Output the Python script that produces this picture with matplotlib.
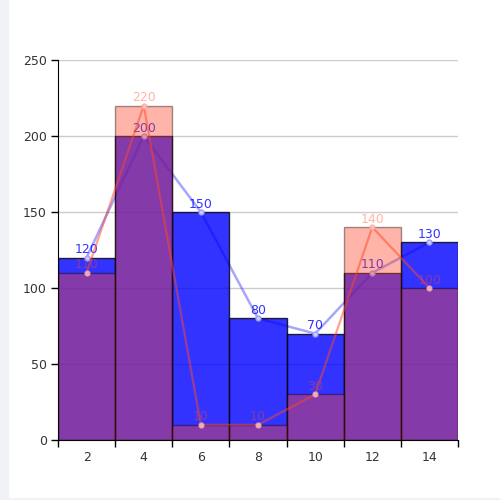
import numpy as np
import matplotlib
matplotlib.use("Agg")
import matplotlib.pyplot as plt
from matplotlib.patches import Rectangle

categories = ["2", "4", "6", "8", "10", "12", "14"]
blue_vals = [120, 200, 150, 80, 70, 110, 130]
red_vals = [110, 220, 10, 10, 30, 140, 100]
y_ticks = [0, 50, 100, 150, 200, 250]

blue = (0.0, 0.0, 1.0)
red = (1.0, 0.27, 0.16)

plt.rcParams["font.family"] = ["DejaVu Sans"]
fig = plt.figure(figsize=(5, 5), dpi=100)
fig.patch.set_facecolor("#f1f2f7")
# white card behind the chart
card = Rectangle((0.017, 0.005), 1.0, 1.0, transform=fig.transFigure,
                 facecolor="white", edgecolor="none", zorder=-5)
fig.patches.append(card)

ax = fig.add_axes([0.116, 0.12, 0.8, 0.76])
ax.set_facecolor("none")
x = np.arange(len(categories))

# grid
for t in y_ticks[1:]:
    ax.axhline(t, color="#cccccc", lw=1, zorder=0.5)

# blue series: line under bars, markers above
ax.plot(x, blue_vals, color=blue, alpha=0.35, lw=1.8, zorder=1)
ax.bar(x, blue_vals, width=1.0, color=blue, alpha=0.8, edgecolor="black", linewidth=1, zorder=2)
ax.plot(x, blue_vals, linestyle="none", marker="o", ms=3.5, mfc=(0.8, 0.8, 1.0), mec=(0.62, 0.62, 1.0),
        mew=1, zorder=2.5)
for xi, v in zip(x, blue_vals):
    ax.annotate(str(v), (xi, v), xytext=(0, 1), textcoords="offset points", ha="center", va="bottom",
                fontsize=9, color=blue, alpha=0.8, zorder=2.6)

# red series on top with transparency
ax.bar(x, red_vals, width=1.0, color=red, alpha=0.4, edgecolor="black", linewidth=1, zorder=3)
ax.plot(x, red_vals, color=red, alpha=0.5, lw=1.6, zorder=4)
ax.plot(x, red_vals, linestyle="none", marker="o", ms=3.5, mfc=(1.0, 0.82, 0.8), mec=(1.0, 0.65, 0.6),
        mew=1, alpha=0.8, zorder=4.5)
for xi, v in zip(x, red_vals):
    ax.annotate(str(v), (xi, v), xytext=(0, 1), textcoords="offset points", ha="center", va="bottom",
                fontsize=9, color=red, alpha=0.4, zorder=4.6)

ax.set_xlim(-0.5, len(categories) - 0.5)
ax.set_ylim(0, 250)
ax.set_yticks(y_ticks)
ax.set_xticks(np.arange(len(categories) + 1) - 0.5)
ax.set_xticklabels([])
ax.set_xticks(x, minor=True)
ax.set_xticklabels(categories, minor=True)
ax.tick_params(axis="x", which="major", length=5, width=1, color="black")
ax.tick_params(axis="x", which="minor", length=0, pad=8, labelsize=9, labelcolor="#333333")
ax.tick_params(axis="y", length=5, width=1, color="black", pad=3, labelsize=9, labelcolor="#333333")

for s in ["top", "right"]:
    ax.spines[s].set_visible(False)
ax.spines["left"].set_color("black")
ax.spines["bottom"].set_color("black")
ax.spines["left"].set_zorder(6)
ax.spines["bottom"].set_zorder(6)

fig.savefig("out.png", dpi=100, facecolor=fig.get_facecolor())
